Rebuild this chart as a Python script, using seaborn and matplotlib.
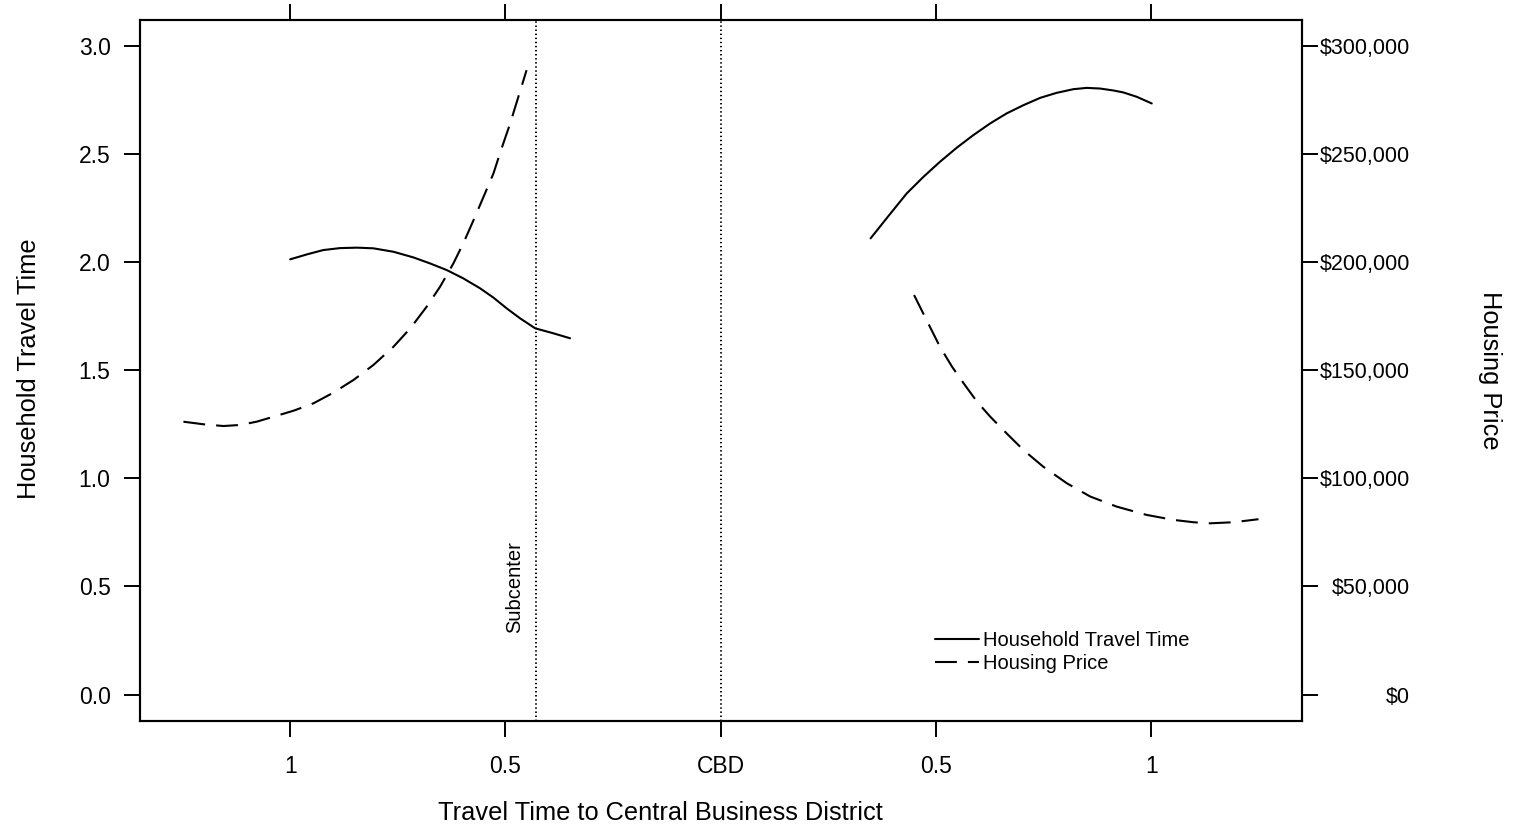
import matplotlib
matplotlib.use("Agg")
import matplotlib.pyplot as plt
from matplotlib.lines import Line2D
import seaborn as sns

# ---- data ----
# x: signed travel time to CBD (left of CBD negative, right positive)
left_time_x = [-1.000, -0.961, -0.923, -0.884, -0.845, -0.807, -0.760, -0.714, -0.675,
               -0.636, -0.598, -0.559, -0.528, -0.497, -0.466, -0.431, -0.389, -0.350]
left_time_y = [2.013, 2.036, 2.056, 2.065, 2.067, 2.064, 2.048, 2.022, 1.994,
               1.963, 1.925, 1.879, 1.836, 1.786, 1.740, 1.694, 1.671, 1.648]

left_price_x = [-1.248, -1.201, -1.155, -1.116, -1.078, -1.039, -0.992, -0.946, -0.900,
                -0.853, -0.807, -0.760, -0.721, -0.683, -0.652, -0.621, -0.598, -0.574,
                -0.551, -0.528, -0.509, -0.489, -0.470, -0.451]
left_price_y = [126200, 125000, 124200, 124700, 126200, 128500, 131300, 134700, 139600,
                145500, 152400, 160900, 169400, 179400, 188600, 199400, 208700, 219500,
                230200, 241000, 252600, 264200, 276500, 288800]

right_time_x = [0.348, 0.393, 0.432, 0.471, 0.509, 0.548, 0.587, 0.626, 0.664, 0.703,
                0.742, 0.780, 0.819, 0.850, 0.881, 0.912, 0.935, 0.966, 1.001]
right_time_y = [2.110, 2.222, 2.318, 2.395, 2.464, 2.529, 2.588, 2.642, 2.688, 2.726,
                2.760, 2.783, 2.800, 2.806, 2.803, 2.794, 2.785, 2.765, 2.734]

right_price_x = [0.449, 0.478, 0.509, 0.537, 0.564, 0.595, 0.626, 0.664, 0.703, 0.749,
                 0.804, 0.858, 0.920, 0.989, 1.051, 1.098, 1.136, 1.191, 1.249]
right_price_y = [184800, 173200, 160900, 151700, 144000, 135500, 128500, 120800, 113100, 105400,
                 97700, 91600, 86900, 83100, 80800, 79700, 79200, 79700, 81100]

subcenter_x = -0.430
cbd_x = 0.0

x_ticks = [-1, -0.5, 0, 0.5, 1]
x_tick_labels = ["1", "0.5", "CBD", "0.5", "1"]
y_ticks = [0, 0.5, 1.0, 1.5, 2.0, 2.5, 3.0]
y_tick_labels = ["0.0", "0.5", "1.0", "1.5", "2.0", "2.5", "3.0"]
price_ticks = [0, 50000, 100000, 150000, 200000, 250000, 300000]
price_tick_labels = ["$0", "$50,000", "$100,000", "$150,000", "$200,000", "$250,000", "$300,000"]
series_names = ["Household Travel Time", "Housing Price"]

# ---- style ----
sns.set_theme(style="white")
plt.rcParams["font.family"] = ["Liberation Sans", "DejaVu Sans"]
plt.rcParams["text.color"] = "black"

W, H = 1514, 830
PX = 72 / 100  # points per pixel at dpi 100
fig = plt.figure(figsize=(W / 100, H / 100), dpi=100)
L, R, T, B = 139.5, 1302, 20, 720.5
ax = fig.add_axes([L / W, 1 - B / H, (R - L) / W, (B - T) / H])
ax2 = ax.twinx()

LW = 1.5
DASH = (0, (10.5, 5.3))

sns.lineplot(x=left_time_x, y=left_time_y, ax=ax, color="black", lw=LW, estimator=None, sort=False)
sns.lineplot(x=right_time_x, y=right_time_y, ax=ax, color="black", lw=LW, estimator=None, sort=False)
sns.lineplot(x=left_price_x, y=left_price_y, ax=ax2, color="black", lw=LW, linestyle=DASH,
             estimator=None, sort=False)
sns.lineplot(x=right_price_x, y=right_price_y, ax=ax2, color="black", lw=LW, linestyle=DASH,
             estimator=None, sort=False)

for xv in (subcenter_x, cbd_x):
    ax.axvline(xv, color="black", lw=1.4, linestyle=(0, (0.7, 1.4)))

ax.text(-0.4776, 0.499, "Subcenter", rotation=90, ha="center", va="center",
        fontsize=14.5, color="black")

ylo, yhi = -0.12, 3.12
ax.set_xlim(-1.35, 1.35)
ax.set_ylim(ylo, yhi)
ax2.set_ylim(ylo * 100000, yhi * 100000)

ax.set_xticks(x_ticks)
ax.set_xticklabels(x_tick_labels)
ax.set_yticks(y_ticks)
ax.set_yticklabels(y_tick_labels)
ax2.set_yticks(price_ticks)
ax2.set_yticklabels(price_tick_labels, ha="right")

TL = 16 * PX
FS = 16.5
ax.tick_params(axis="x", which="both", bottom=True, top=True, labeltop=False,
               direction="out", length=TL, width=1.4, pad=13.5, labelsize=FS, colors="black")
ax.tick_params(axis="y", left=True, right=False, direction="out", length=TL, width=1.4,
               pad=(123 - 110) * PX, labelsize=FS, colors="black")
ax2.tick_params(axis="y", right=True, direction="out", length=TL, width=1.4,
                pad=(1410 - 1318) * PX, labelsize=15.5, colors="black")

ax.set_xlabel("")
ax.set_ylabel("")
ax2.set_ylabel("")
for sp in list(ax.spines.values()) + list(ax2.spines.values()):
    sp.set_color("black")
    sp.set_linewidth(1.5)

fig.text(29.5 / W, 1 - 369 / H, "Household Travel Time", rotation=90, ha="center", va="center",
         fontsize=18.3, color="black")
fig.text(1490 / W, 1 - 370 / H, "Housing Price", rotation=270, ha="center", va="center",
         fontsize=18.3, color="black")
fig.text(660 / W, 1 - 813 / H, "Travel Time to Central Business District", ha="center", va="center",
         fontsize=18.3, color="black")

handles = [Line2D([], [], color="black", lw=LW),
           Line2D([], [], color="black", lw=LW, linestyle=DASH)]
leg = ax.legend(handles, series_names, loc="upper left",
                bbox_to_anchor=((935 - L) / (R - L), (B - 631) / (B - T)),
                frameon=False, fontsize=14.5, handlelength=2.19, handletextpad=0.2,
                borderpad=0, borderaxespad=0, labelspacing=0.22)
for t in leg.get_texts():
    t.set_color("black")

fig.savefig("out.png", dpi=100, facecolor="white")
